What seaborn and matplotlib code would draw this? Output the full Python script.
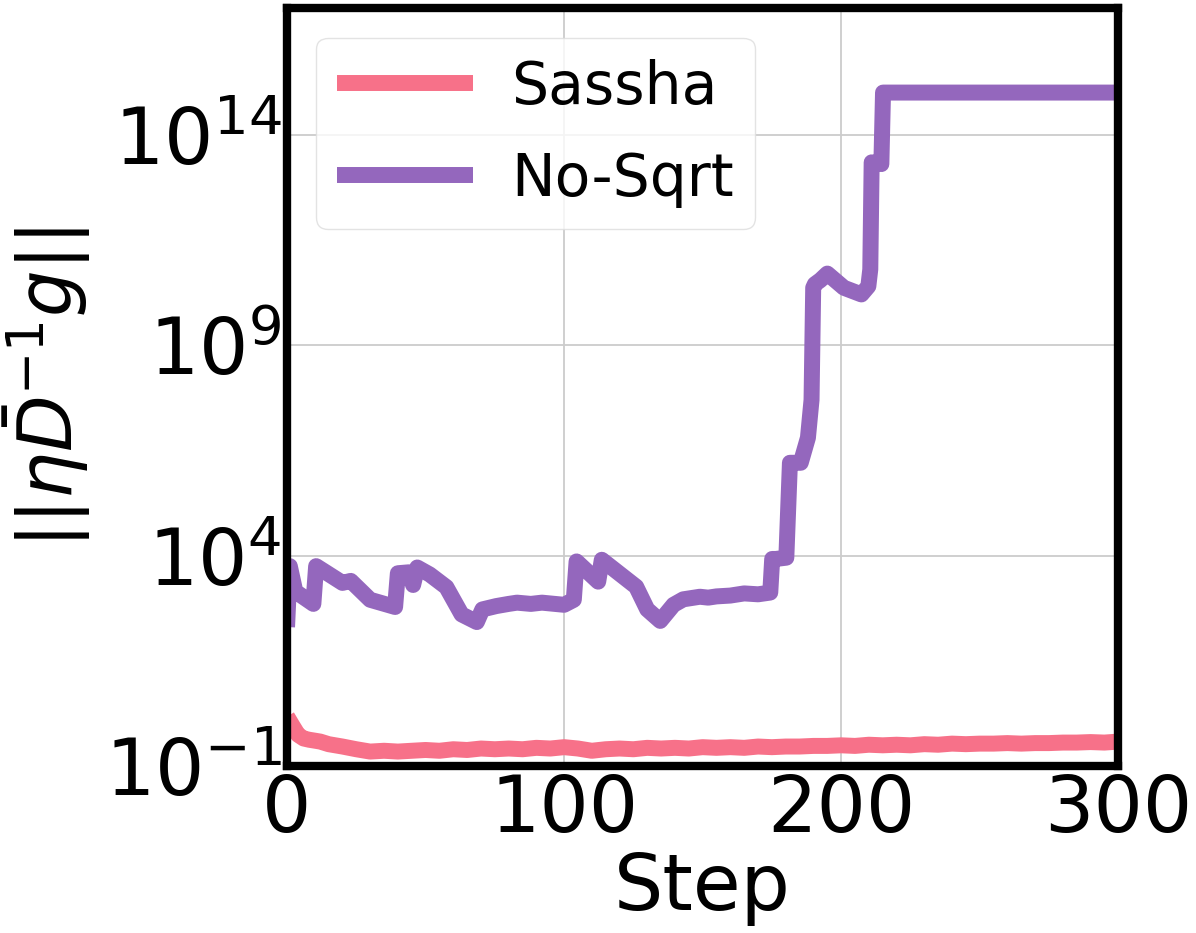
import matplotlib
matplotlib.use("Agg")
import matplotlib.pyplot as plt
import seaborn as sns

# Sassha: norm of the preconditioned step, sampled every few steps
sassha_steps = [0, 2, 4, 6, 8, 10, 12, 15, 20, 25, 30, 35, 40, 45, 50, 55, 60,
                65, 70, 75, 80, 85, 90, 95, 100, 105, 110, 115, 120, 125, 130,
                135, 140, 145, 150, 155, 160, 165, 170, 175, 180, 185, 190, 195,
                200, 205, 210, 215, 220, 225, 230, 235, 240, 245, 250, 255, 260,
                265, 270, 275, 280, 285, 290, 295, 300]
sassha_vals = [1.5, 0.9, 0.55, 0.45, 0.42, 0.40, 0.38, 0.33, 0.29, 0.25, 0.22,
               0.23, 0.22, 0.23, 0.24, 0.23, 0.25, 0.24, 0.26, 0.25, 0.26, 0.25,
               0.27, 0.26, 0.28, 0.26, 0.23, 0.25, 0.26, 0.25, 0.27, 0.26, 0.27,
               0.26, 0.28, 0.27, 0.28, 0.27, 0.29, 0.28, 0.29, 0.29, 0.30, 0.30,
               0.31, 0.30, 0.32, 0.31, 0.32, 0.31, 0.33, 0.32, 0.34, 0.33, 0.34,
               0.34, 0.35, 0.34, 0.35, 0.35, 0.36, 0.36, 0.37, 0.36, 0.38]

# No-Sqrt: blows up after ~175 steps
nosqrt_steps = [0, 1, 3, 9.5, 10.5, 14, 20, 23, 30, 39, 40, 44, 45.5, 47, 51.5,
                57.5, 63, 68.5, 70.5, 75.5, 80, 83, 88, 92, 100, 103.5, 104.5,
                112.3, 113.6, 126, 130, 134.7, 139.5, 143, 149, 152, 155, 160,
                165, 170, 174.4, 175.1, 176.4, 180.2, 181.5, 185.4, 188, 189.3,
                189.9, 190.5, 192.5, 195, 201, 207.3, 209.8, 210.5, 211, 214.5,
                215.1, 300]
nosqrt_vals = [200, 5600, 1400, 710, 5600, 4000, 2240, 2500, 890, 600, 3800,
               4000, 2000, 5200, 3550, 1780, 400, 263, 525, 630, 710, 760, 710,
               760, 676, 890, 7240, 2400, 7940, 1820, 525, 280, 676, 912, 1050,
               1000, 1070, 1120, 1260, 1200, 1320, 8300, 8300, 8900, 1.6e6,
               1.6e6, 6.3e6, 5e7, 2.3e10, 2.8e10, 3.5e10, 5e10, 2.3e10, 1.6e10,
               2.5e10, 6.3e10, 2.2e13, 2e13, 1e15, 1e15]

y_ticks = [1e-1, 1e4, 1e9, 1e14]
x_ticks = [0, 100, 200, 300]

sassha_color = sns.color_palette("husl", 8)[0]
nosqrt_color = "#9467bd"

sns.set_style("whitegrid")
plt.rcParams["font.family"] = ["DejaVu Sans"]
plt.rcParams["mathtext.fontset"] = "dejavusans"
plt.rcParams["text.color"] = "black"
plt.rcParams["axes.labelcolor"] = "black"
plt.rcParams["xtick.color"] = "black"
plt.rcParams["ytick.color"] = "black"

fig = plt.figure(figsize=(11.96, 9.33), dpi=100)
ax = fig.add_axes([0.24, 0.179, 0.695, 0.812])

sns.lineplot(x=sassha_steps, y=sassha_vals, color=sassha_color, linewidth=11.5,
             solid_capstyle="butt", label="Sassha", ax=ax)
sns.lineplot(x=nosqrt_steps, y=nosqrt_vals, color=nosqrt_color, linewidth=11.5,
             solid_capstyle="butt", label="No-Sqrt", ax=ax)

ax.set_yscale("log")
ax.set_xlim(0, 300)
ax.set_ylim(1e-1, 1e17)
ax.set_xticks(x_ticks)
ax.set_yticks(y_ticks)
ax.minorticks_off()
ax.tick_params(axis="both", length=0, labelsize=56, pad=4)

ax.grid(True, color="#cccccc", linewidth=1.3)
for sp in ax.spines.values():
    sp.set_visible(True)
    sp.set_color("black")
    sp.set_linewidth(6)

ax.set_xlabel("Step", fontsize=56, labelpad=2)
ax.set_ylabel(r"$||\eta\bar{D}^{-1}g||$", fontsize=53, labelpad=8)

leg = ax.legend(loc="upper left", fontsize=42, frameon=True, handlelength=2.33,
                handletextpad=0.65, borderpad=0.36, labelspacing=0.6,
                borderaxespad=0.5)
leg.get_frame().set_edgecolor("#dddddd")
for h in leg.get_lines():
    h.set_solid_capstyle("butt")

fig.savefig("out.png", dpi=100)
